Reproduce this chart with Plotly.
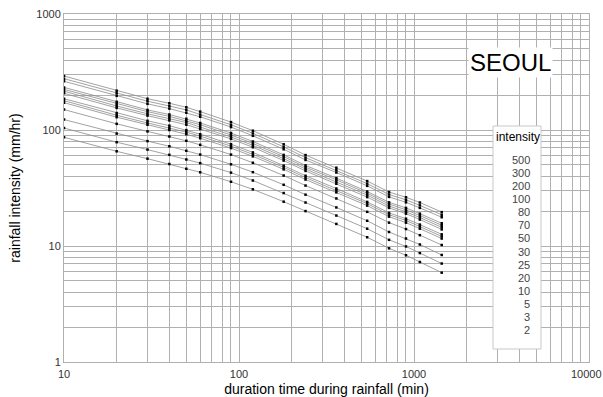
import plotly.graph_objects as go

durations = [10, 20, 30, 40, 50, 60, 90, 120, 180, 240, 360, 540, 720, 900, 1080, 1440]
return_periods = ["500", "300", "200", "100", "80", "70", "50", "30", "25", "20", "10", "5", "3", "2"]
x_ticks = [10, 100, 1000]
x_tick_labels = ["10", "100", "1000"]
x_last_tick = 10000
x_last_label = "10000"
y_ticks = [1, 10, 100, 1000]
y_tick_labels = ["1", "10", "100", "1000"]

i500 = [292, 218, 186, 170, 157, 144, 117, 98.6, 75.3, 60.8, 47.3, 36.3, 29.2, 26.3, 23.7, 19.6]
i300 = [277, 207, 177, 161, 149, 136, 111, 93.5, 71.6, 57.8, 45.0, 34.5, 27.8, 25.0, 22.4, 18.6]
i200 = [263, 197, 168, 153, 141, 130, 106, 89.1, 68.2, 55.2, 43.0, 33.0, 26.5, 23.8, 21.3, 17.7]
i100 = [233, 175, 149, 136, 125, 115, 94.2, 79.6, 61.0, 49.5, 38.5, 29.5, 23.8, 21.3, 19.0, 15.7]
i80 = [224, 168, 144, 131, 120, 111, 90.6, 76.6, 58.9, 47.8, 37.2, 28.5, 23.0, 20.5, 18.3, 15.1]
i70 = [216, 161, 138, 126, 116, 106, 87.1, 73.8, 56.6, 46.1, 35.8, 27.5, 22.1, 19.7, 17.6, 14.5]
i50 = [207, 155, 133, 121, 111, 102, 83.8, 71.0, 54.5, 44.4, 34.4, 26.4, 21.3, 19.0, 16.9, 13.9]
i30 = [186, 140, 120, 109, 99.8, 92.0, 75.5, 64.1, 49.3, 40.3, 31.3, 24.0, 19.3, 17.2, 15.3, 12.6]
i25 = [179, 134, 115, 104, 95.9, 88.5, 72.6, 61.7, 47.6, 38.9, 30.2, 23.2, 18.6, 16.6, 14.7, 12.1]
i20 = [172, 129, 111, 100, 92.0, 84.9, 69.8, 59.3, 45.8, 37.4, 29.0, 22.3, 17.9, 15.9, 14.1, 11.6]
i10 = [150, 113, 97.3, 87.9, 80.7, 74.5, 61.4, 52.2, 40.5, 33.2, 25.7, 19.7, 15.9, 14.0, 12.4, 10.2]
i5 = [123, 93.1, 80.2, 72.4, 66.2, 61.4, 50.6, 43.3, 33.7, 27.7, 21.5, 16.5, 13.2, 11.6, 10.3, 8.37]
i3 = [104, 78.5, 67.8, 61.1, 55.7, 51.8, 42.9, 36.7, 28.6, 23.7, 18.3, 14.1, 11.3, 9.91, 8.69, 7.06]
i2 = [86.5, 65.5, 56.6, 50.9, 46.3, 43.2, 35.8, 30.8, 24.1, 20.0, 15.5, 11.9, 9.55, 8.32, 7.28, 5.89]

series = [i500, i300, i200, i100, i80, i70, i50, i30, i25, i20, i10, i5, i3, i2]

FONT = "Liberation Sans, Arial, sans-serif"
GRID = "#b0b0b0"
TICKC = "#333333"

fig = go.Figure()
for name, vals in zip(return_periods, series):
    fig.add_trace(go.Scatter(
        x=durations, y=vals, name=name, mode="lines+markers",
        line=dict(color="#8a8a8a", width=0.8),
        marker=dict(symbol="square", size=2.5, color="black", line=dict(width=0)),
        showlegend=False,
    ))

L, R, T, B = 64, 14, 14, 35
PW, PH = 603 - L - R, 397 - T - B

fig.update_layout(
    width=603, height=397,
    margin=dict(l=L, r=R, t=T, b=B, autoexpand=False),
    paper_bgcolor="white", plot_bgcolor="white",
    font=dict(family=FONT, color=TICKC),
)
fig.update_xaxes(
    type="log", range=[1, 4], tickvals=x_ticks, ticktext=x_tick_labels,
    showgrid=True, gridcolor=GRID, gridwidth=1,
    minor=dict(dtick="D1", showgrid=True, gridcolor=GRID, gridwidth=1, ticks=""),
    showline=True, linecolor=GRID, mirror=True, automargin=False,
    ticks="", ticklabelstandoff=2, tickfont=dict(size=11, color=TICKC),
    title=dict(text="duration time during rainfall (min)", font=dict(size=14, color="black"), standoff=7),
    zeroline=False,
)
fig.update_yaxes(
    type="log", range=[0, 3], tickvals=y_ticks, ticktext=y_tick_labels,
    showgrid=True, gridcolor=GRID, gridwidth=1,
    minor=dict(dtick="D1", showgrid=True, gridcolor=GRID, gridwidth=1, ticks=""),
    showline=True, linecolor=GRID, mirror=True, automargin=False,
    ticks="", tickfont=dict(size=11, color=TICKC),
    title=dict(text="rainfall intensity (mm/hr)", font=dict(size=14, color="black"), standoff=12),
    zeroline=False,
)

def px(xp):
    return (xp - L) / PW

def py(yp):
    return (397 - B - yp) / PH

# last x tick label at the right page edge
fig.add_annotation(xref="x", yref="paper", x=4, y=py(374), text=x_last_label,
                   showarrow=False, font=dict(size=11, color=TICKC),
                   xanchor="center", yanchor="middle", xshift=-3)

# legend-like box
fig.add_shape(type="rect", xref="paper", yref="paper",
              x0=px(493), x1=px(541), y0=py(349), y1=py(126),
              fillcolor="white", line=dict(color="#c8c8c8", width=1), layer="above")
fig.add_annotation(xref="paper", yref="paper", x=px(518), y=py(137),
                   text="intensity", showarrow=False, font=dict(size=12, color="black"),
                   xanchor="center", yanchor="middle")
for k, lab in enumerate(return_periods):
    yy = 160 + k * (330 - 160) / 13
    fig.add_annotation(xref="paper", yref="paper", x=px(532), y=py(yy),
                       text=lab, showarrow=False, font=dict(size=11, color="#444"),
                       xanchor="right", yanchor="middle")

fig.add_annotation(xref="paper", yref="paper", x=px(510), y=py(63),
                   text="SEOUL", showarrow=False, font=dict(size=24, color="black"),
                   bgcolor="white", xanchor="center", yanchor="middle")

fig.write_html("out.html")
